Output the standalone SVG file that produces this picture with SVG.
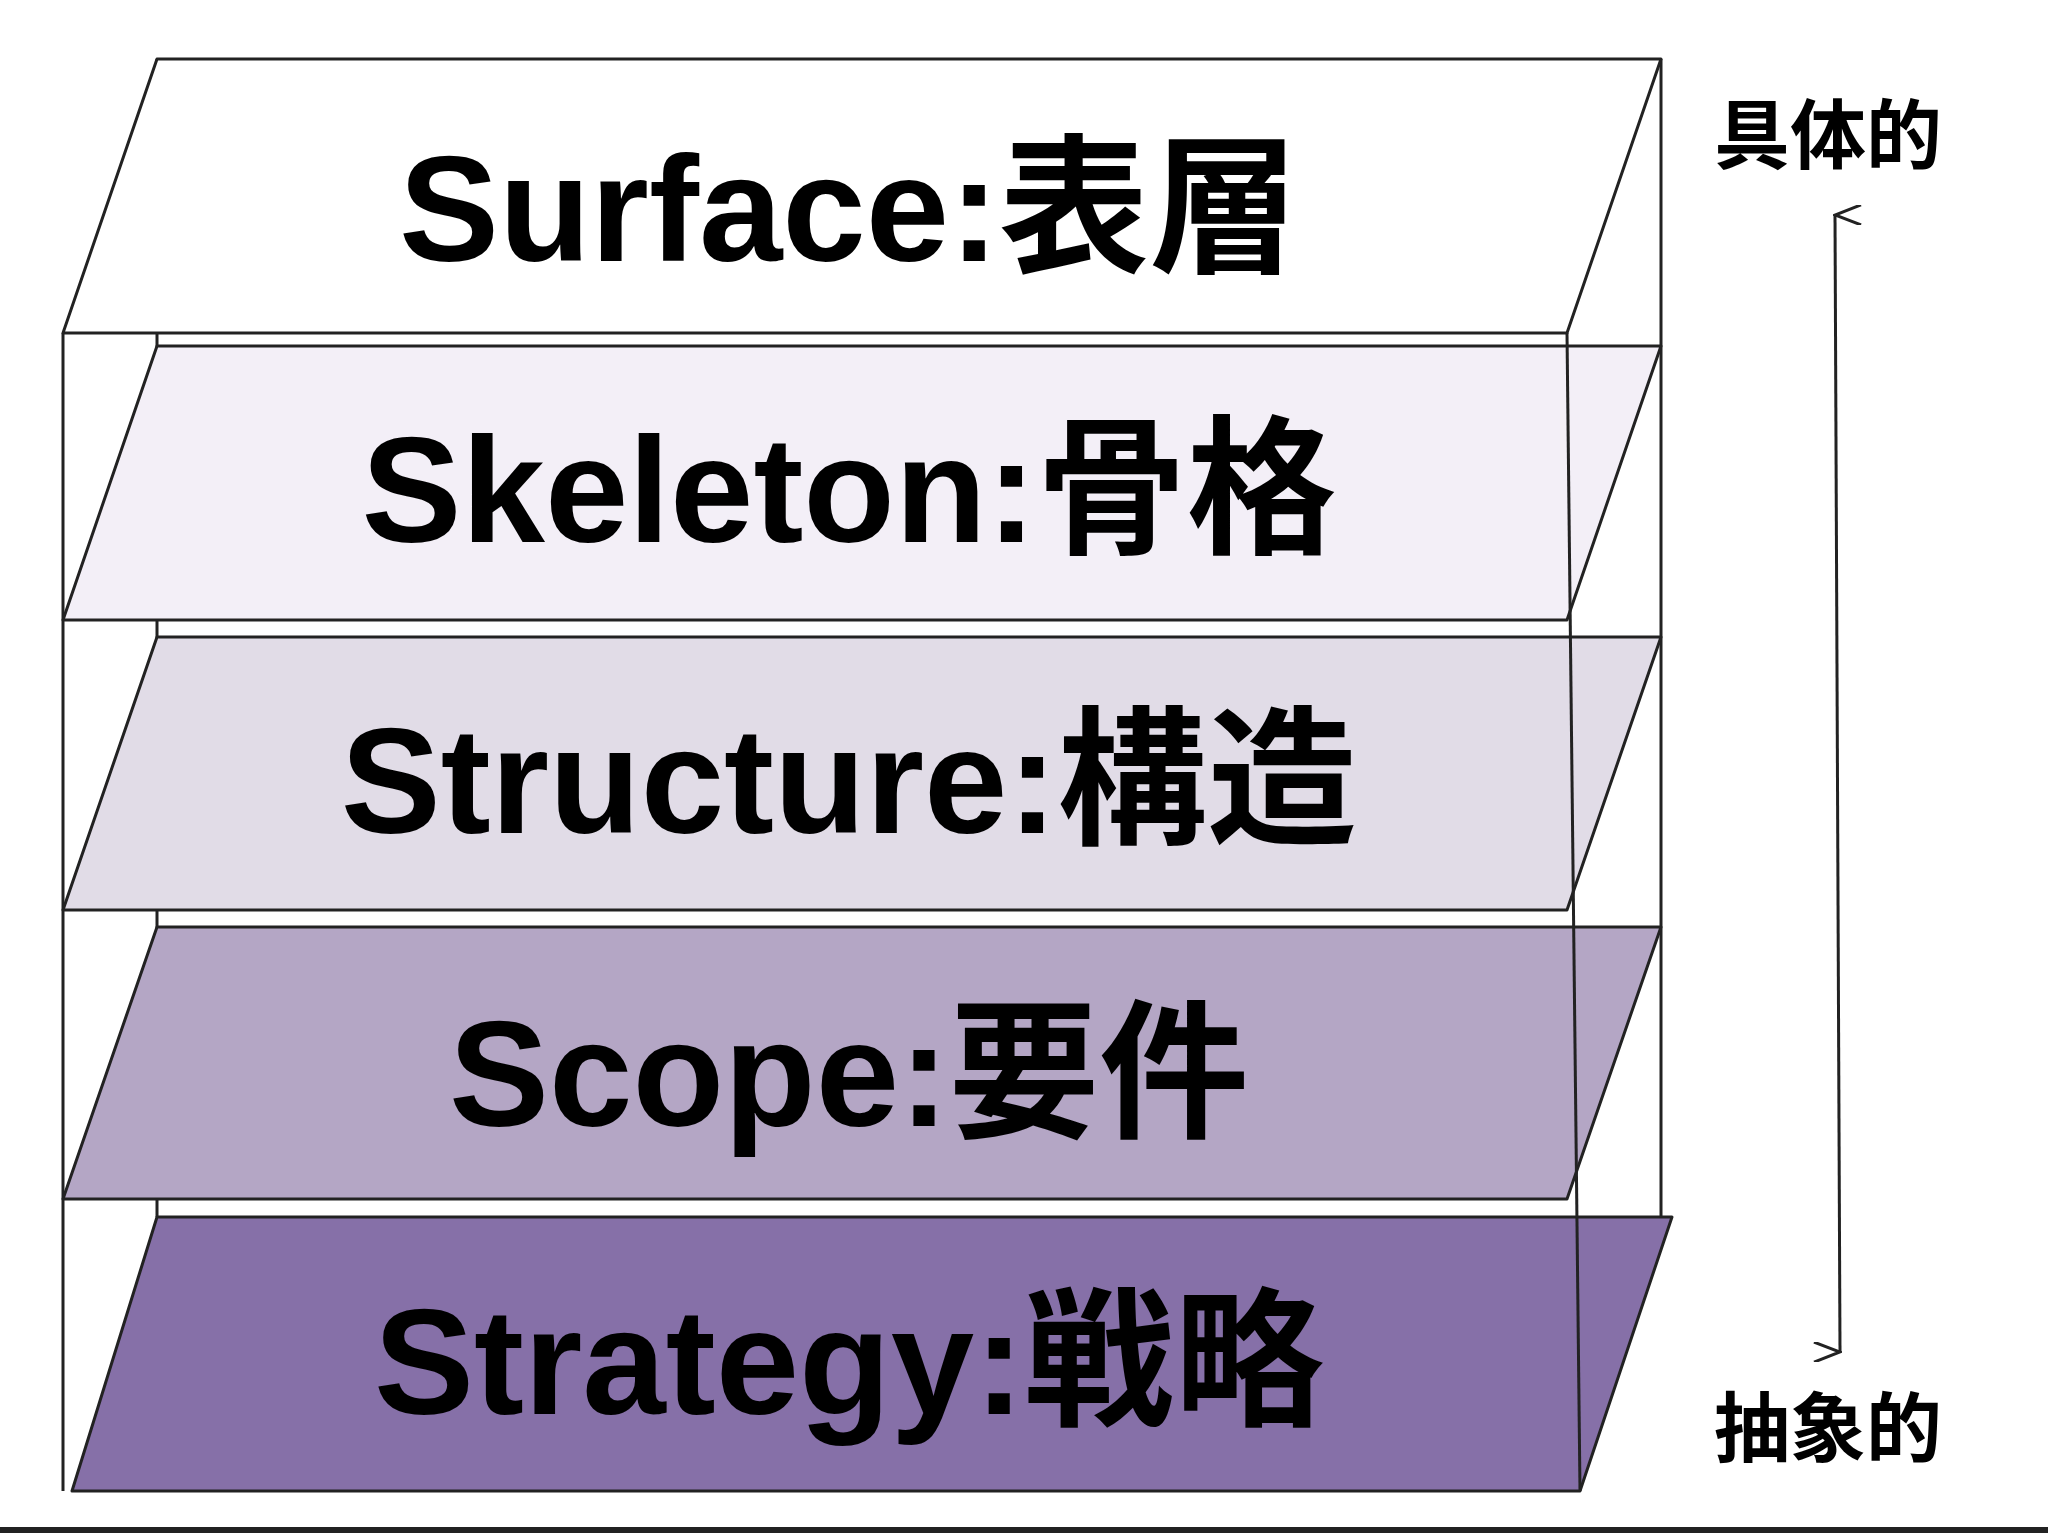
<svg xmlns="http://www.w3.org/2000/svg" width="2048" height="1536" viewBox="0 0 2048 1536">
<style>
.l{stroke:#222;stroke-width:3;stroke-linejoin:round}
.t{font-family:"Liberation Sans","Noto Sans CJK JP",sans-serif;font-weight:bold;font-size:150px;text-anchor:middle;fill:#000}
.s{font-family:"Noto Sans CJK JP",sans-serif;font-weight:bold;font-size:76px;text-anchor:middle;fill:#000}
.e{stroke:#222;stroke-width:3;fill:none}
</style>
<defs><marker id="a" markerWidth="20" markerHeight="30" refX="10" refY="2" orient="auto-start-reverse" markerUnits="userSpaceOnUse" viewBox="0 0 20 30"><path d="M0,28 L10,2 L20,28" fill="none" stroke="#222" stroke-width="3"/></marker></defs>
<rect width="2048" height="1536" fill="#fff"/>
<g id="box">
<line class="e" x1="157" y1="59" x2="157" y2="1217"/>
<line class="e" x1="1661" y1="59" x2="1661" y2="1217"/>
</g>
<g id="surface"><polygon class="l" fill="#fff" points="157,59 1661,59 1567,333 63,333"/><text class="t" x="849" y="261">Surface:表層</text></g>
<g id="skeleton"><polygon class="l" fill="#f3eff7" points="157,346 1661,346 1567,620 63,620"/><text class="t" x="849" y="542">Skeleton:骨格</text></g>
<g id="structure"><polygon class="l" fill="#e1dce7" points="157,637 1661,637 1567,910 63,910"/><text class="t" x="849" y="833">Structure:構造</text></g>
<g id="scope"><polygon class="l" fill="#b4a6c5" points="157,927 1661,927 1567,1199 63,1199"/><text class="t" x="849" y="1126">Scope:要件</text></g>
<g id="strategy"><polygon class="l" fill="#8670a8" points="157,1217 1672,1217 1580,1491 72,1491"/><text class="t" x="849" y="1414">Strategy:戦略</text></g>
<g id="front">
<line class="e" x1="63" y1="333" x2="63" y2="1491"/>
<line class="e" x1="1567" y1="333" x2="1580" y2="1491"/>
</g>
<g id="labels"><text class="s" x="1828" y="163">具体的</text><text class="s" x="1828" y="1456">抽象的</text></g>
<g id="connectors"><line x1="1835" y1="215" x2="1840" y2="1352" stroke="#222" stroke-width="3" marker-start="url(#a)" marker-end="url(#a)"/></g>
<line x1="0" y1="1530" x2="2048" y2="1530" stroke="#222" stroke-width="6"/>
</svg>
